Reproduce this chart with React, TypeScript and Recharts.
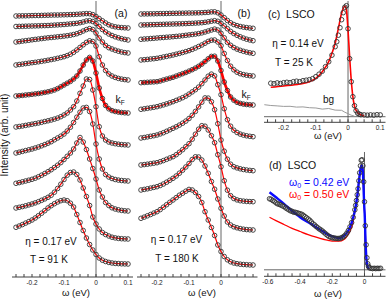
import React from "react";
import { ComposedChart, Line, XAxis, YAxis, ReferenceLine } from "recharts";

const FONT = "Arial, 'Liberation Sans', Helvetica, sans-serif";
const AXIS = "#404040";
const RED = "#ff0000";
const BLUE = "#0a0aff";
const DOT = "#333333";

// energy grid of the EDCs in (a) and (b), eV
const energy = [
  -0.25, -0.24, -0.23, -0.22, -0.21, -0.2, -0.19, -0.18, -0.17, -0.16,
  -0.15, -0.14, -0.13, -0.12, -0.11, -0.1, -0.09, -0.08, -0.07, -0.06,
  -0.05, -0.04, -0.03, -0.02, -0.01, 0, 0.01, 0.02, 0.03, 0.04,
  0.05, 0.06, 0.07, 0.08, 0.09, 0.1,
];

// (a) T = 91 K: vertical offsets and EDC intensities (arb. unit), top to bottom
const offsetsA = [249, 237, 224, 197, 164, 132, 96, 66, 38, 13];
const edcA = [
  [12.0, 12.1, 12.2, 12.2, 12.3, 12.4, 12.5, 12.5, 12.6, 12.7, 12.8, 12.9, 13.0, 13.0, 13.1, 13.2, 13.3, 13.4, 13.5, 13.7, 13.9, 14.2, 14.4, 14.3, 13.4, 11.5, 9.4, 7.2, 5.0, 3.2, 2.0, 1.2, 0.7, 0.4, 0.2, 0],
  [13.5, 13.6, 13.7, 13.8, 13.9, 14.0, 14.1, 14.2, 14.3, 14.4, 14.5, 14.7, 14.9, 15.1, 15.3, 15.5, 15.8, 16.1, 16.4, 16.7, 17.3, 18.0, 19.0, 19.3, 18.5, 16.5, 13.5, 10.5, 8.0, 6.0, 4.5, 3.2, 2.2, 1.3, 0.6, 0],
  [11.0, 11.4, 11.9, 12.3, 12.7, 13.2, 13.6, 14.0, 14.4, 14.8, 15.2, 15.5, 15.8, 16.2, 16.5, 16.9, 17.3, 17.8, 18.5, 19.3, 20.5, 22.0, 23.4, 24.4, 23.5, 20.0, 15.0, 11.0, 7.5, 5.3, 4.0, 2.8, 1.8, 1.0, 0.4, 0],
  [15.0, 15.5, 15.9, 16.4, 16.8, 17.3, 17.7, 18.2, 18.7, 19.2, 19.8, 20.4, 21.0, 21.7, 22.5, 23.3, 24.4, 25.8, 27.7, 30.0, 32.6, 35.2, 37.6, 39.2, 38.5, 34.0, 23.3, 15.0, 9.5, 6.0, 4.0, 2.6, 1.6, 0.9, 0.4, 0],
  [17.0, 17.3, 17.6, 18.0, 18.3, 18.7, 19.1, 19.5, 20.0, 20.6, 21.2, 22.0, 23.0, 24.4, 26.2, 28.0, 29.8, 31.6, 34.0, 37.0, 42.0, 48.0, 53.0, 55.6, 52.0, 40.0, 25.0, 14.5, 7.5, 4.2, 2.4, 1.5, 0.9, 0.5, 0.2, 0],
  [18.0, 18.5, 19.0, 19.6, 20.2, 20.8, 21.4, 22.0, 22.7, 23.5, 24.2, 25.0, 25.9, 26.9, 28.3, 30.0, 32.0, 35.0, 38.3, 44.0, 51.7, 59.0, 66.0, 65.5, 55.0, 38.3, 18.3, 9.0, 5.0, 3.0, 2.0, 1.3, 0.8, 0.4, 0.2, 0],
  [28.0, 28.8, 29.6, 30.4, 31.2, 32.0, 33.0, 34.0, 35.2, 36.4, 37.8, 39.3, 41.2, 43.0, 44.8, 47.0, 50.0, 53.8, 58.5, 63.8, 68.8, 73.0, 73.6, 69.5, 57.0, 37.0, 22.0, 12.0, 6.5, 4.0, 2.5, 1.5, 0.9, 0.5, 0.2, 0],
  [27.7, 28.4, 29.2, 30.0, 30.8, 31.7, 32.8, 34.2, 35.8, 37.5, 39.3, 41.3, 43.5, 45.8, 48.4, 51.5, 54.7, 58.0, 62.0, 68.0, 73.5, 69.0, 61.5, 52.0, 42.5, 32.0, 21.0, 14.0, 8.5, 5.5, 3.2, 2.0, 1.2, 0.6, 0.2, 0],
  [31.0, 31.7, 32.4, 33.2, 34.1, 35.0, 36.1, 37.3, 38.7, 40.1, 41.7, 43.8, 46.8, 50.5, 54.8, 59.5, 63.8, 66.5, 67.0, 64.5, 59.0, 51.0, 42.5, 33.5, 22.0, 15.0, 10.0, 6.5, 4.5, 3.0, 1.8, 1.1, 0.6, 0.3, 0.1, 0],
  [36.7, 38.0, 39.4, 40.9, 42.4, 44.0, 46.0, 48.3, 50.8, 53.3, 56.0, 58.3, 60.3, 62.0, 63.3, 64.0, 63.3, 60.8, 57.0, 49.5, 41.5, 33.5, 26.0, 19.5, 14.0, 9.5, 6.0, 3.8, 2.5, 1.6, 1.0, 0.6, 0.4, 0.2, 0.1, 0],
];

// (b) T = 180 K
const offsetsB = [248.7, 236.3, 223.7, 201, 172, 140.3, 106.3, 75.3, 47, 12];
const edcB = [
  [14.3, 14.4, 14.4, 14.5, 14.5, 14.6, 14.7, 14.7, 14.8, 14.9, 15.0, 15.0, 15.1, 15.1, 15.2, 15.3, 15.3, 15.4, 15.5, 15.6, 15.8, 16.0, 16.4, 16.5, 15.5, 13.3, 10.6, 7.8, 5.5, 3.8, 2.7, 1.8, 1.2, 0.7, 0.3, 0],
  [15.7, 15.8, 15.9, 16.0, 16.1, 16.2, 16.3, 16.4, 16.5, 16.6, 16.7, 16.8, 16.9, 17.0, 17.1, 17.3, 17.4, 17.6, 17.8, 18.0, 18.4, 18.9, 19.5, 20.0, 19.4, 17.3, 14.8, 12.0, 9.3, 7.2, 5.4, 3.9, 2.6, 1.5, 0.7, 0],
  [14.0, 14.3, 14.5, 14.8, 15.0, 15.3, 15.6, 15.8, 16.1, 16.3, 16.6, 16.9, 17.2, 17.6, 18.0, 18.4, 18.8, 19.2, 19.7, 20.4, 21.3, 22.3, 23.3, 24.2, 23.3, 20.0, 15.5, 11.0, 8.0, 5.8, 4.2, 3.0, 2.0, 1.2, 0.5, 0],
  [16.0, 16.3, 16.6, 17.0, 17.3, 17.7, 18.3, 19.0, 19.6, 20.3, 21.0, 21.8, 22.6, 23.5, 24.4, 25.4, 26.6, 28.0, 29.5, 31.0, 32.8, 34.6, 35.8, 36.0, 34.0, 30.3, 22.5, 15.5, 9.8, 6.2, 3.8, 2.3, 1.4, 0.8, 0.3, 0],
  [22.3, 22.5, 22.7, 22.9, 23.1, 23.3, 24.0, 25.0, 25.9, 26.8, 27.7, 28.9, 30.1, 31.3, 32.5, 33.9, 35.3, 36.9, 38.7, 40.9, 43.5, 46.2, 48.6, 48.8, 44.0, 34.5, 23.0, 14.5, 8.0, 4.8, 2.7, 1.6, 0.9, 0.5, 0.2, 0],
  [27.4, 27.9, 28.4, 28.9, 29.4, 30.0, 30.9, 31.8, 32.8, 33.9, 35.0, 36.3, 37.6, 39.0, 40.6, 42.6, 44.8, 47.0, 49.6, 53.0, 56.7, 60.5, 62.6, 60.8, 52.0, 42.0, 28.0, 17.0, 10.5, 6.5, 4.2, 2.6, 1.6, 0.9, 0.4, 0],
  [32.7, 33.2, 33.8, 34.4, 35.0, 35.7, 36.8, 38.0, 39.4, 40.9, 42.4, 43.9, 45.6, 47.5, 49.6, 52.2, 55.4, 59.3, 63.8, 68.5, 72.8, 72.6, 69.0, 61.0, 47.0, 30.7, 19.5, 11.5, 6.5, 4.0, 2.8, 1.9, 1.2, 0.7, 0.3, 0],
  [36.7, 37.1, 37.5, 38.0, 38.5, 39.0, 40.0, 41.1, 42.4, 43.7, 45.0, 47.0, 49.4, 52.0, 55.0, 58.0, 62.5, 67.5, 72.5, 76.0, 75.5, 71.7, 66.0, 59.0, 47.0, 35.0, 21.0, 11.5, 6.0, 3.2, 1.8, 1.0, 0.6, 0.3, 0.1, 0],
  [40.0, 40.6, 41.2, 41.9, 42.6, 43.3, 44.5, 46.0, 47.8, 49.7, 51.7, 54.0, 56.8, 59.8, 63.0, 66.5, 70.5, 73.2, 73.0, 70.0, 64.0, 56.7, 48.5, 40.8, 31.0, 21.7, 14.0, 8.0, 5.0, 3.2, 2.2, 1.4, 0.8, 0.4, 0.2, 0],
  [46.7, 47.9, 49.2, 50.5, 51.9, 53.3, 55.4, 57.8, 60.3, 62.7, 65.0, 67.4, 69.8, 71.8, 73.8, 75.6, 75.0, 72.5, 68.5, 62.5, 53.3, 45.0, 37.5, 29.5, 20.0, 13.5, 8.5, 5.2, 3.2, 2.0, 1.3, 0.8, 0.5, 0.3, 0.1, 0],
];
const kFIndex = 4;

// (c) LSCO, T = 25 K
const energyC = [
  -0.24, -0.23, -0.22, -0.21, -0.2, -0.19, -0.18, -0.17, -0.16, -0.15, -0.14, -0.13, -0.12, -0.11, -0.1, -0.09, -0.08, -0.07, -0.06, -0.05, -0.04,
  -0.035, -0.03, -0.025, -0.02, -0.015, -0.01, -0.005, 0, 0.005, 0.01, 0.015, 0.02, 0.025, 0.03, 0.035, 0.04,
  0.05, 0.06, 0.07, 0.08, 0.09, 0.1,
];
const dataC = [
  33.5, 33.0, 33.8, 33.2, 34.0, 34.4, 34.0, 35.0, 35.5, 35.0, 36.0, 36.5, 37.0, 38.0, 40.0, 42.5, 45.5, 50.0, 55.0, 61.5, 70.0,
  75.0, 81.5, 89.0, 97.0, 104.0, 109.5, 111.0, 88.0, 58.0, 35.0, 20.0, 11.0, 6.0, 3.5, 2.5, 2.0,
  1.8, 1.5, 1.8, 1.5, 2.0, 1.8,
];
const fitEnergyC = [-0.24, -0.2, -0.15, -0.12, -0.1, -0.08, -0.06, -0.05, -0.04, -0.03, -0.02, -0.015, -0.01, -0.005, 0, 0.005, 0.01, 0.015, 0.02, 0.03, 0.04, 0.05];
const fitC = [29.4, 30.7, 32.7, 35.0, 38.4, 45.0, 55.0, 63.4, 73.4, 88.4, 103.4, 108.4, 110.7, 106.7, 86.7, 60.0, 36.7, 20.0, 10.7, 4.0, 1.7, 1.0];
const bgEnergyC = [-0.26, -0.24, -0.22, -0.2, -0.18, -0.16, -0.14, -0.12, -0.1, -0.08, -0.06, -0.04, -0.02, -0.01, 0, 0.01, 0.02];
const bgC = [12.0, 11.2, 10.8, 10.3, 10.4, 9.6, 9.8, 9.0, 8.7, 7.6, 8.2, 6.6, 6.4, 4.5, 3.0, 1.5, 0.5];

// (d) LSCO, wide range
const energyD = [
  -0.59, -0.58, -0.57, -0.56, -0.55, -0.54, -0.53, -0.52, -0.51, -0.5,
  -0.49, -0.48, -0.47, -0.46, -0.45, -0.44, -0.43, -0.42, -0.41, -0.4,
  -0.39, -0.38, -0.37, -0.36, -0.35, -0.34, -0.33, -0.32, -0.31, -0.3,
  -0.29, -0.28, -0.27, -0.26, -0.25, -0.24, -0.23, -0.22, -0.21, -0.2,
  -0.19, -0.18, -0.17, -0.16, -0.15, -0.14, -0.13, -0.12, -0.11, -0.1,
  -0.09, -0.08, -0.07, -0.06,
  -0.055, -0.05, -0.045, -0.04, -0.035, -0.03, -0.025, -0.02, -0.015, -0.01, -0.005, 0, 0.005, 0.01, 0.015, 0.02, 0.025, 0.03,
  0.04, 0.05, 0.06, 0.07, 0.08, 0.09, 0.1,
];
const dataD = [
  71.0, 70.5, 69.3, 68.5, 67.0, 66.0, 65.5, 64.8, 64.0, 63.3,
  62.0, 61.0, 60.0, 59.0, 58.5, 57.6, 57.5, 57.0, 56.5, 56.0,
  55.5, 54.5, 53.2, 52.0, 50.8, 49.5, 47.8, 46.0, 44.8, 43.3,
  42.0, 40.8, 39.8, 38.6, 37.2, 35.8, 34.5, 33.3, 32.6, 32.0,
  31.8, 31.5, 31.3, 31.3, 31.6, 32.2, 33.2, 34.6, 36.6, 39.3,
  43.0, 47.2, 52.5, 60.0,
  64.5, 69.3, 75.0, 81.0, 89.0, 97.0, 104.0, 109.5, 110.0, 104.0, 88.0, 68.0, 44.0, 25.0, 12.0, 6.0, 3.5, 2.0,
  1.5, 1.2, 1.5, 1.2, 1.5, 1.3, 1.5,
];
const blueEnergyD = [-0.59, -0.55, -0.5, -0.45, -0.4, -0.35, -0.3, -0.25, -0.2, -0.157, -0.13, -0.1, -0.08, -0.064, -0.05, -0.043, -0.035, -0.029, -0.024, -0.019, -0.015, -0.01, -0.006, -0.002, 0.002, 0.005, 0.008, 0.012, 0.017, 0.022, 0.03];
const blueFitD = [77.6, 72.5, 66.0, 59.0, 52.6, 47.5, 42.6, 37.5, 33.3, 31.6, 33.5, 39.3, 47.0, 56.0, 68.0, 76.0, 88.0, 96.0, 101.5, 104.3, 104.0, 98.0, 82.6, 65.0, 52.6, 36.0, 22.6, 11.0, 4.3, 2.0, 1.0];
const redEnergyD = [-0.59, -0.55, -0.5, -0.45, -0.4, -0.35, -0.3, -0.25, -0.22, -0.19, -0.157, -0.13, -0.116, -0.1, -0.085, -0.07, -0.064, -0.05, -0.043, -0.035, -0.029, -0.024, -0.019, -0.015, -0.01, -0.006, -0.002, 0.002, 0.005, 0.008, 0.012, 0.017, 0.022, 0.03];
const redFitD = [52.6, 49.2, 45.3, 41.5, 38.3, 35.2, 32.6, 30.3, 29.2, 28.6, 28.6, 30.0, 32.0, 35.5, 40.5, 48.5, 55.0, 68.0, 76.0, 88.0, 96.0, 101.5, 104.3, 104.0, 98.0, 82.6, 65.0, 52.6, 36.0, 22.6, 11.0, 4.3, 2.0, 1.0];

// axis ticks
const ticksEdc = [-0.25, -0.225, -0.2, -0.175, -0.15, -0.125, -0.1, -0.075, -0.05, -0.025, 0, 0.025, 0.05, 0.075, 0.1];
const labelsA = [-0.2, -0.1, 0, 0.1];
const labelsB = [-0.2, -0.1, 0];
const ticksD = [-0.6, -0.55, -0.5, -0.45, -0.4, -0.35, -0.3, -0.25, -0.2, -0.15, -0.1, -0.05, 0, 0.05, 0.1];
const labelsD = [-0.6, -0.4, -0.2, 0];

const pts = (xs: number[], ys: number[], off = 0) => xs.map((e, i) => ({ e, v: ys[i] + off }));

const dotStyle = { r: 2.3, stroke: DOT, strokeWidth: 0.9, fill: "none" };

type PanelProps = {
  x: number;
  y: number;
  w: number;
  h: number;
  xDomain: [number, number];
  yDomain: [number, number];
  ticks: number[];
  labels: number[];
  children: React.ReactNode;
};

function Panel({ x, y, w, h, xDomain, yDomain, ticks, labels, children }: PanelProps) {
  const pad = 7;
  const axisH = 16;
  const fmt = (v: number) => (labels.some((m) => Math.abs(m - v) < 1e-9) ? String(v) : "");
  return (
    <div style={{ position: "absolute", left: x - pad, top: y - 2 }}>
      <ComposedChart width={w + 2 * pad} height={h + 2 + axisH} margin={{ top: 2, right: pad, bottom: 0, left: pad }}>
        <XAxis
          type="number"
          dataKey="e"
          domain={xDomain}
          allowDataOverflow
          ticks={ticks}
          interval={0}
          tickFormatter={fmt}
          tickSize={-3}
          tickMargin={6}
          height={axisH}
          stroke={AXIS}
          tick={{ fontSize: 6.5, fill: "#222", fontFamily: FONT }}
        />
        <XAxis
          xAxisId="top"
          orientation="top"
          type="number"
          dataKey="e"
          domain={xDomain}
          allowDataOverflow
          ticks={ticks}
          interval={0}
          tick={false}
          tickSize={-3}
          height={0}
          stroke={AXIS}
        />
        <YAxis type="number" domain={yDomain} allowDataOverflow width={0} tick={false} tickLine={false} stroke={AXIS} />
        <YAxis
          yAxisId="right"
          orientation="right"
          type="number"
          domain={yDomain}
          allowDataOverflow
          width={0}
          tick={false}
          tickLine={false}
          stroke={AXIS}
        />
        {children}
      </ComposedChart>
    </div>
  );
}

function edcSeries(offsets: number[], shapes: number[][], tag: string) {
  const circles = shapes.map((s, i) => (
    <Line
      key={`${tag}-d${i}`}
      data={pts(energy, s, offsets[i])}
      dataKey="v"
      stroke="none"
      dot={dotStyle}
      activeDot={false}
      isAnimationActive={false}
    />
  ));
  const fits = shapes.map((s, i) => (
    <Line
      key={`${tag}-f${i}`}
      data={pts(energy, s, offsets[i])}
      dataKey="v"
      type="monotone"
      stroke={RED}
      strokeWidth={i === kFIndex ? 2.6 : 1.2}
      dot={false}
      activeDot={false}
      isAnimationActive={false}
    />
  ));
  return [...circles, ...fits];
}

const T = (props: { x: number; y: number; size?: number; color?: string; anchor?: "left" | "center"; children: React.ReactNode }) => (
  <div
    style={{
      position: "absolute",
      left: props.x,
      top: props.y,
      transform: props.anchor === "left" ? "translate(0,-50%)" : "translate(-50%,-50%)",
      fontSize: props.size ?? 10,
      color: props.color ?? "#111",
      fontFamily: FONT,
      whiteSpace: "pre",
      lineHeight: 1,
    }}
  >
    {props.children}
  </div>
);

const KF = () => (
  <span>
    k<sub style={{ fontSize: 6.5, verticalAlign: "-2px" }}>F</sub>
  </span>
);

export default function App() {
  return (
    <div style={{ position: "absolute", left: 0, top: 0, width: 386, height: 299, background: "#fff", overflow: "hidden" }}>
      <Panel x={12} y={1} w={121} h={276} xDomain={[-0.2625, 0.1156]} yDomain={[0, 276]} ticks={ticksEdc} labels={labelsA}>
        <ReferenceLine x={0} stroke={AXIS} strokeWidth={0.8} />
        {edcSeries(offsetsA, edcA, "a")}
      </Panel>
      <Panel x={137} y={1} w={120.5} h={276} xDomain={[-0.2625, 0.114]} yDomain={[0, 276]} ticks={ticksEdc} labels={labelsB}>
        <ReferenceLine x={0} stroke={AXIS} strokeWidth={0.8} />
        {edcSeries(offsetsB, edcB, "b")}
      </Panel>
      <Panel x={263.5} y={1} w={121.5} h={121.3} xDomain={[-0.261, 0.1164]} yDomain={[-5.6, 115.7]} ticks={ticksEdc} labels={labelsA}>
        <ReferenceLine x={0} stroke={AXIS} strokeWidth={0.8} />
        <ReferenceLine y={0} stroke={AXIS} strokeWidth={0.8} />
        <Line data={pts(bgEnergyC, bgC)} dataKey="v" stroke="#9a9a9a" strokeWidth={1} dot={false} activeDot={false} isAnimationActive={false} />
        <Line data={pts(energyC, dataC)} dataKey="v" stroke="none" dot={dotStyle} activeDot={false} isAnimationActive={false} />
        <Line data={pts(fitEnergyC, fitC)} dataKey="v" type="monotone" stroke={RED} strokeWidth={1.6} dot={false} activeDot={false} isAnimationActive={false} />
      </Panel>
      <Panel x={263.5} y={151.5} w={121.5} h={124.3} xDomain={[-0.6242, 0.1305]} yDomain={[-6.5, 117.8]} ticks={ticksD} labels={labelsD}>
        <ReferenceLine x={0} stroke={AXIS} strokeWidth={0.8} />
        <ReferenceLine y={0} stroke={AXIS} strokeWidth={0.8} />
        <Line data={pts(energyD, dataD)} dataKey="v" stroke="none" dot={dotStyle} activeDot={false} isAnimationActive={false} />
        <Line data={pts(redEnergyD, redFitD)} dataKey="v" type="monotone" stroke={RED} strokeWidth={1.3} dot={false} activeDot={false} isAnimationActive={false} />
        <Line data={pts(blueEnergyD, blueFitD)} dataKey="v" type="monotone" stroke={BLUE} strokeWidth={2.4} dot={false} activeDot={false} isAnimationActive={false} />
      </Panel>

      {/* y label */}
      <div
        style={{
          position: "absolute",
          left: 5,
          top: 135,
          transform: "translate(-50%,-50%) rotate(-90deg)",
          fontSize: 10,
          fontFamily: FONT,
          whiteSpace: "nowrap",
          color: "#111",
          lineHeight: 1,
        }}
      >
        Intensity (arb. unit)
      </div>

      {/* panel (a) */}
      <T x={121} y={13} size={10.5}>(a)</T>
      <T x={120} y={100} size={10.5}><KF /></T>
      <T x={51} y={242}>η = 0.17 eV</T>
      <T x={49} y={260}>T = 91 K</T>
      <T x={76} y={293} size={9.5}>ω (eV)</T>

      {/* panel (b) */}
      <T x={244} y={13} size={10.5}>(b)</T>
      <T x={246} y={95} size={10.5}><KF /></T>
      <T x={176.5} y={240}>η = 0.17 eV</T>
      <T x={177} y={259}>T = 180 K</T>
      <T x={202} y={293} size={9.5}>ω (eV)</T>

      {/* panel (c) */}
      <T x={268} y={13.5} size={10.5} anchor="left">(c)  LSCO</T>
      <T x={298} y={44}>η = 0.14 eV</T>
      <T x={294} y={63}>T = 25 K</T>
      <T x={328.5} y={100}>bg</T>
      <T x={328} y={136} size={9.5}>ω (eV)</T>

      {/* panel (d) */}
      <T x={269} y={165} size={10.5} anchor="left">(d)  LSCO</T>
      <T x={289} y={183} size={10.5} color={BLUE} anchor="left">
        ω<sub style={{ fontSize: 7, verticalAlign: "-2px" }}>0</sub> = 0.42 eV
      </T>
      <T x={289} y={194.5} size={10.5} color={RED} anchor="left">
        ω<sub style={{ fontSize: 7, verticalAlign: "-2px" }}>0</sub> = 0.50 eV
      </T>
      <T x={328} y={294} size={9.5}>ω (eV)</T>
    </div>
  );
}
